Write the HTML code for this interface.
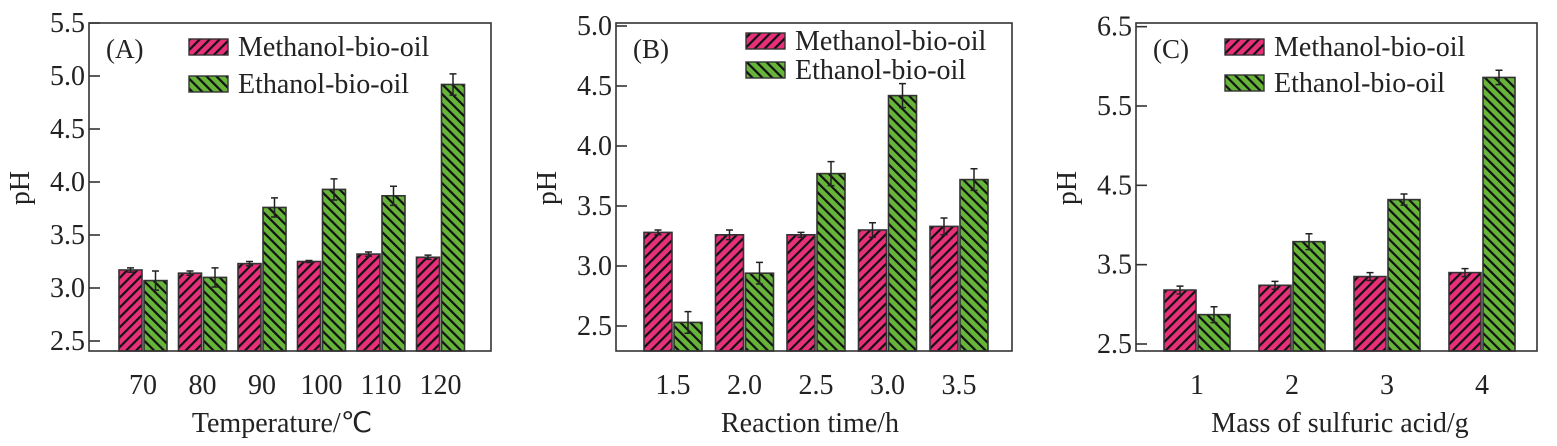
<!DOCTYPE html>
<html><head><meta charset="utf-8"><style>
html,body{margin:0;padding:0;background:#fff;}
svg text{font-family:"Liberation Serif",serif;fill:#222;}
</style></head><body>
<svg id="fig" width="1557" height="441" viewBox="0 0 1557 441" xmlns="http://www.w3.org/2000/svg">
<defs>
<pattern id="hm" patternUnits="userSpaceOnUse" width="7" height="7" patternTransform="rotate(45)">
<rect width="7" height="7" fill="#e8307a"/><rect x="0" y="0" width="2.2" height="7" fill="#111"/></pattern>
<pattern id="he" patternUnits="userSpaceOnUse" width="7" height="7" patternTransform="rotate(-45)">
<rect width="7" height="7" fill="#66b43a"/><rect x="0" y="0" width="2.2" height="7" fill="#111"/></pattern>
</defs>
</svg>
<script>
// Panel A data
const catsA = ["70","80","90","100","110","120"];
const methA = [3.17,3.14,3.23,3.25,3.32,3.29];
const methErrA = [0.02,0.02,0.02,0.01,0.02,0.02];
const ethA = [3.07,3.10,3.76,3.93,3.87,4.92];
const ethErrA = [0.09,0.09,0.09,0.10,0.09,0.10];
const ticksA = ["2.5","3.0","3.5","4.0","4.5","5.0","5.5"];
// Panel B data
const catsB = ["1.5","2.0","2.5","3.0","3.5"];
const methB = [3.28,3.26,3.26,3.30,3.33];
const methErrB = [0.02,0.04,0.02,0.06,0.07];
const ethB = [2.53,2.94,3.77,4.42,3.72];
const ethErrB = [0.09,0.09,0.10,0.10,0.09];
const ticksB = ["2.5","3.0","3.5","4.0","4.5","5.0"];
// Panel C data
const catsC = ["1","2","3","4"];
const methC = [3.18,3.24,3.35,3.40];
const methErrC = [0.05,0.05,0.05,0.05];
const ethC = [2.87,3.79,4.32,5.86];
const ethErrC = [0.10,0.10,0.07,0.09];
const ticksC = ["2.5","3.5","4.5","5.5","6.5"];

const svg = document.getElementById('fig');
const NS = "http://www.w3.org/2000/svg";
function mk(tag, attrs, parent){
  const e = document.createElementNS(NS, tag);
  for (const k in attrs) e.setAttribute(k, attrs[k]);
  (parent||svg).appendChild(e); return e;
}
function panel(cfg){
  const g = mk('g', {});
  
  
  const y = v => cfg.y0 + (v - cfg.vmin) * (cfg.y1 - cfg.y0) / (cfg.vmax - cfg.vmin);
  const xc = i => cfg.c0 + i * cfg.step;
  cfg.cats.forEach((c, i) => {
    [[cfg.meth, cfg.methErr, 'url(#hm)', -1, 'meth'], [cfg.eth, cfg.ethErr, 'url(#he)', 1, 'eth']].forEach(s => {
      const v = s[0][i], er = s[1][i];
      const x = s[3] < 0 ? xc(i) - cfg.bw - 1 : xc(i) + 1;
      const top = y(v);
      const r = mk('rect', {x: x, y: top, width: cfg.bw, height: cfg.bot - top, fill: s[2], stroke: '#333', 'stroke-width': 1.6}, g);
      
      
      const cx = x + cfg.bw / 2;
      const eb = mk('path', {d: `M${cx} ${y(v - er)}V${y(v + er)}M${cx - 3.5} ${y(v + er)}H${cx + 3.5}M${cx - 3.5} ${y(v - er)}H${cx + 3.5}`, stroke: '#222', 'stroke-width': 1.5, fill: 'none'}, g);
      
      
    });
    const t = mk('text', {x: xc(i), y: 394, 'font-size': 28, 'text-anchor': 'middle'}, g);
    t.textContent = c;
    
    
  });
  const box = mk('rect', {x: cfg.L, y: cfg.T, width: cfg.R - cfg.L, height: cfg.bot - cfg.T, fill: 'none', stroke: '#333', 'stroke-width': 1.6}, g);
  
  
  cfg.ticks.forEach(tk => {
    const v = parseFloat(tk), yy = y(v);
    const l = mk('line', {x1: cfg.L, x2: cfg.L + 11, y1: yy, y2: yy, stroke: '#333', 'stroke-width': 1.6}, g);
    
    
    const t = mk('text', {x: cfg.L - 4, y: yy + 9, 'font-size': 28, 'text-anchor': 'end'}, g);
    t.textContent = tk;
    
    
  });
  const yt = mk('text', {x: cfg.L - 60, y: 188, 'font-size': 28, 'text-anchor': 'middle', transform: `rotate(-90 ${cfg.L - 60} 188)`}, g);
  yt.textContent = 'pH';
  
  
  const xt = mk('text', {x: cfg.xtX, y: 432, 'font-size': 28, 'text-anchor': 'middle'}, g);
  xt.textContent = cfg.xtitle;
  
  
  const pl = mk('text', {x: cfg.L + 17, y: 58, 'font-size': 27}, g);
  pl.textContent = '(' + cfg.id + ')';
  
  
  [['url(#hm)', 'Methanol-bio-oil', cfg.ly1], ['url(#he)', 'Ethanol-bio-oil', cfg.ly2]].forEach(e => {
    const p = mk('rect', {x: cfg.lx, y: e[2], width: 39, height: 16, fill: e[0], stroke: '#333', 'stroke-width': 1.4}, g);
    
    
    const t = mk('text', {x: cfg.lx + 49, y: e[2] + 17, 'font-size': 28}, g);
    t.textContent = e[1];
    
    
  });
}
panel({id:'A', cats:catsA, meth:methA, methErr:methErrA, eth:ethA, ethErr:ethErrA, ticks:ticksA,
  L:89, R:491, T:23, bot:351, y0:341, y1:76, vmin:2.5, vmax:5.0, c0:143, step:59.5, bw:23,
  xtitle:'Temperature/\u2103', xtX:282, lx:189, ly1:39, ly2:76});
panel({id:'B', cats:catsB, meth:methB, methErr:methErrB, eth:ethB, ethErr:ethErrB, ticks:ticksB,
  L:616, R:1012, T:23, bot:351, y0:326, y1:86, vmin:2.5, vmax:4.5, c0:673, step:71.5, bw:28,
  xtitle:'Reaction time/h', xtX:810, lx:746, ly1:33, ly2:62});
panel({id:'C', cats:catsC, meth:methC, methErr:methErrC, eth:ethC, ethErr:ethErrC, ticks:ticksC,
  L:1136, R:1537, T:23, bot:351, y0:344, y1:106, vmin:2.5, vmax:5.5, c0:1197, step:95, bw:32,
  xtitle:'Mass of sulfuric acid/g', xtX:1340, lx:1225, ly1:39, ly2:75});
</script>
</body></html>
